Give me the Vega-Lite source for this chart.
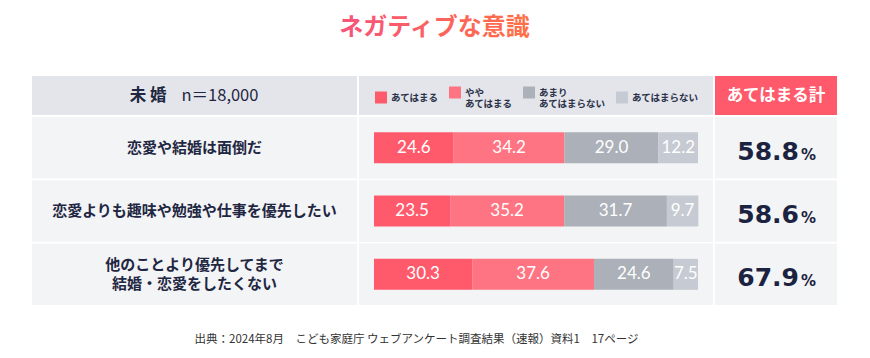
{
  "$schema": "https://vega.github.io/schema/vega-lite/v6.json",
  "padding": {"left": 32, "top": 0, "right": 0, "bottom": 0},
  "background": "white",
  "spacing": 2,
  "config": {
    "view": {"stroke": null},
    "font": "Noto Sans CJK JP",
    "text": {"baseline": "middle", "align": "center"}
  },
  "datasets": {
    "items": [
      {"item": "恋愛や結婚は面倒だ", "total": 58.8},
      {"item": "恋愛よりも趣味や勉強や仕事を優先したい", "total": 58.6},
      {"item": "他のことより優先してまで\n結婚・恋愛をしたくない", "total": 67.9}
    ],
    "bars": [
      {"item": "恋愛や結婚は面倒だ", "category": "あてはまる", "ord": 1, "value": 24.6},
      {"item": "恋愛や結婚は面倒だ", "category": "ややあてはまる", "ord": 2, "value": 34.2},
      {"item": "恋愛や結婚は面倒だ", "category": "あまりあてはまらない", "ord": 3, "value": 29.0},
      {"item": "恋愛や結婚は面倒だ", "category": "あてはまらない", "ord": 4, "value": 12.2},
      {"item": "恋愛よりも趣味や勉強や仕事を優先したい", "category": "あてはまる", "ord": 1, "value": 23.5},
      {"item": "恋愛よりも趣味や勉強や仕事を優先したい", "category": "ややあてはまる", "ord": 2, "value": 35.2},
      {"item": "恋愛よりも趣味や勉強や仕事を優先したい", "category": "あまりあてはまらない", "ord": 3, "value": 31.7},
      {"item": "恋愛よりも趣味や勉強や仕事を優先したい", "category": "あてはまらない", "ord": 4, "value": 9.7},
      {"item": "他のことより優先してまで\n結婚・恋愛をしたくない", "category": "あてはまる", "ord": 1, "value": 30.3},
      {"item": "他のことより優先してまで\n結婚・恋愛をしたくない", "category": "ややあてはまる", "ord": 2, "value": 37.6},
      {"item": "他のことより優先してまで\n結婚・恋愛をしたくない", "category": "あまりあてはまらない", "ord": 3, "value": 24.6},
      {"item": "他のことより優先してまで\n結婚・恋愛をしたくない", "category": "あてはまらない", "ord": 4, "value": 7.5}
    ]
  },
  "vconcat": [
    {
      "width": 805,
      "height": 74,
      "data": {"values": [{"title": "ネガティブな意識"}]},
      "mark": {
        "type": "text", "fontSize": 24, "fontWeight": "bold", "dy": -9.5,
        "color": {
          "gradient": "linear",
          "x1": 0, "x2": 1, "y1": 0, "y2": 0,
          "stops": [
            {"offset": 0, "color": "#f7537b"},
            {"offset": 1, "color": "#ff7045"}
          ]
        }
      },
      "encoding": {"text": {"field": "title"}}
    },
    {
      "hconcat": [
        {
          "width": 325,
          "height": 39,
          "view": {"fill": "#e3e5ea", "stroke": null},
          "data": {"values": [{"group": "未 婚", "n": "n＝18,000"}]},
          "layer": [
            {
              "mark": {"type": "text", "align": "right", "dx": -28, "fontSize": 16.5, "fontWeight": "bold", "color": "#1f2742"},
              "encoding": {"text": {"field": "group"}}
            },
            {
              "mark": {"type": "text", "align": "left", "dx": -13, "fontSize": 16.5, "fontWeight": "normal", "color": "#1f2742"},
              "encoding": {"text": {"field": "n"}}
            }
          ]
        },
        {
          "width": 354,
          "height": 39,
          "view": {"fill": "#e3e5ea", "stroke": null},
          "data": {"values": [{"t": ""}]},
          "mark": {"type": "text"},
          "encoding": {"text": {"field": "t"}}
        },
        {
          "width": 122,
          "height": 39,
          "view": {"fill": "#ff5a6b", "stroke": null},
          "data": {"values": [{"label": "あてはまる計"}]},
          "mark": {"type": "text", "fontSize": 16.5, "fontWeight": "bold", "color": "white"},
          "encoding": {"text": {"field": "label"}}
        }
      ],
      "spacing": 2,
      "bounds": "flush"
    },
    {
      "hconcat": [
        {
          "width": 325,
          "height": 188,
          "data": {"name": "items"},
          "encoding": {
            "y": {"field": "item", "type": "nominal", "sort": null, "axis": null,
                  "scale": {"type": "band", "paddingInner": 0.033, "paddingOuter": 0}}
          },
          "layer": [
            {"mark": {"type": "rect", "color": "#f3f4f6"}},
            {
              "transform": [{"filter": "indexof(datum.item, '\\n') < 0"}],
              "mark": {"type": "text", "fontSize": 15, "fontWeight": "bold", "color": "#1f2742"},
              "encoding": {"text": {"field": "item"}}
            },
            {
              "transform": [{"filter": "indexof(datum.item, '\\n') >= 0"}],
              "mark": {"type": "text", "fontSize": 15, "fontWeight": "bold", "color": "#1f2742", "lineBreak": "\n", "lineHeight": 19, "dy": -9.5},
              "encoding": {"text": {"field": "item"}}
            }
          ]
        },
        {
          "width": 354,
          "height": 188,
          "data": {"name": "bars"},
          "encoding": {
            "y": {"field": "item", "type": "nominal", "sort": null, "axis": null,
                  "scale": {"type": "band", "paddingInner": 0.033, "paddingOuter": 0}}
          },
          "layer": [
            {
              "mark": {"type": "rect", "color": "#f3f4f6"},
              "encoding": {
                "x": {"value": 0},
                "x2": {"value": "width"}
              }
            },
            {
              "mark": {"type": "bar", "size": 31},
              "encoding": {
                "x": {"field": "value", "type": "quantitative", "stack": "zero", "axis": null,
                      "scale": {"domain": [-4.63, 104.63], "nice": false, "zero": false}},
                "color": {
                  "field": "category", "type": "nominal",
                  "scale": {
                    "domain": ["あてはまる", "ややあてはまる", "あまりあてはまらない", "あてはまらない"],
                    "range": ["#ff5a6b", "#ff7482", "#acb0b8", "#c6cad2"]
                  },
                  "legend": {
                    "orient": "none",
                    "legendX": 343,
                    "legendY": 86.5,
                    "direction": "horizontal",
                    "title": null,
                    "padding": 0,
                    "symbolType": "square",
                    "symbolSize": 144,
                    "symbolStrokeWidth": 0,
                    "symbolOpacity": 1,
                    "labelFont": "Noto Sans CJK JP",
                    "labelFontSize": 9.5,
                    "labelFontWeight": "bold",
                    "labelColor": "#2a3148",
                    "labelOffset": 4,
                    "columnPadding": 10,
                    "labelExpr": "datum.label == 'ややあてはまる' ? ['やや','あてはまる'] : datum.label == 'あまりあてはまらない' ? ['あまり','あてはまらない'] : datum.label"
                  }
                },
                "order": {"field": "ord", "type": "quantitative"}
              }
            },
            {
              "mark": {"type": "text", "font": "Lato", "fontSize": 17, "color": "white"},
              "encoding": {
                "x": {"field": "value", "type": "quantitative", "stack": "zero", "bandPosition": 0.5},
                "order": {"field": "ord", "type": "quantitative"},
                "text": {"field": "value", "type": "quantitative", "format": ".1f"}
              }
            }
          ]
        },
        {
          "width": 122,
          "height": 188,
          "data": {"name": "items"},
          "encoding": {
            "y": {"field": "item", "type": "nominal", "sort": null, "axis": null,
                  "scale": {"type": "band", "paddingInner": 0.033, "paddingOuter": 0}}
          },
          "layer": [
            {"mark": {"type": "rect", "color": "#f3f4f6"}},
            {
              "mark": {"type": "text", "font": "DejaVu Sans", "fontSize": 25, "fontWeight": "bold", "color": "#1b2340", "align": "right", "baseline": "alphabetic", "dx": 23, "dy": 12},
              "encoding": {"text": {"field": "total", "type": "quantitative", "format": ".1f"}}
            },
            {
              "mark": {"type": "text", "font": "DejaVu Sans", "fontSize": 15, "fontWeight": "bold", "color": "#1b2340", "align": "left", "baseline": "alphabetic", "dx": 25, "dy": 12},
              "encoding": {"text": {"value": "%"}}
            }
          ]
        }
      ],
      "spacing": 2,
      "bounds": "flush"
    },
    {
      "width": 805,
      "height": 40,
      "data": {"values": [{"note": "出典：2024年8月　こども家庭庁 ウェブアンケート調査結果（速報）資料1　17ページ"}]},
      "mark": {"type": "text", "fontSize": 11.5, "color": "#333333", "dx": -18, "dy": 13},
      "encoding": {"text": {"field": "note"}}
    }
  ]
}
